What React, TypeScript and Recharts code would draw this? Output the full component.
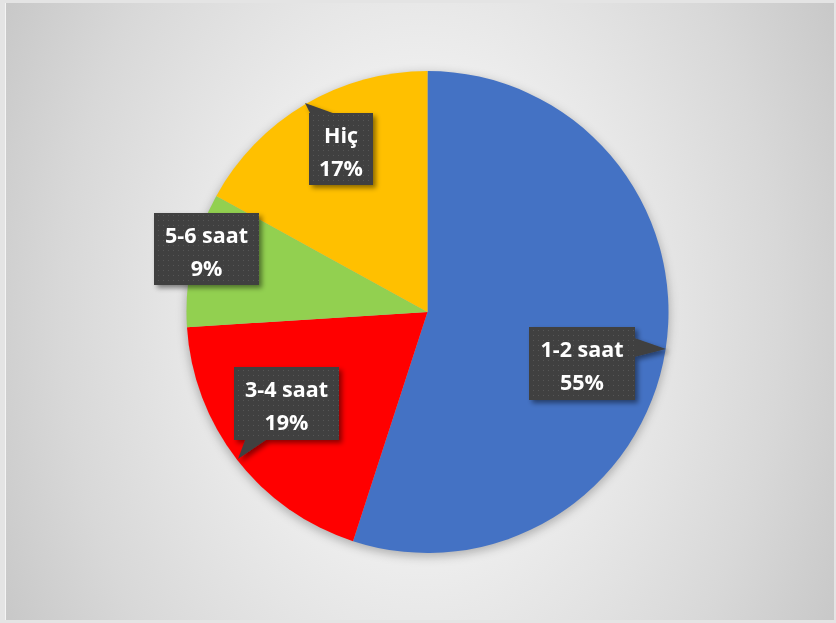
import { PieChart, Pie, Cell } from "recharts";

const categories = ["1-2 saat", "3-4 saat", "5-6 saat", "Hiç"];
const shares = [55, 19, 9, 17];
const percentLabels = ["55%", "19%", "9%", "17%"];
const sliceColors = ["#4472C4", "#FF0000", "#92D050", "#FFC000"];

const data = categories.map((name, i) => ({ name, value: shares[i], pct: percentLabels[i] }));

// callout boxes, relative to the pie centre: box left/top/width/height + pointer polygon
const callouts = [
  { x: 101.5, y: 15, w: 106, h: 73, ptr: [[207, 26], [238.5, 37], [207, 45]] },
  { x: -193.5, y: 55, w: 105, h: 73, ptr: [[-182, 127], [-189.5, 147], [-160, 127]] },
  { x: -273.5, y: -99, w: 105, h: 72, ptr: null },
  { x: -118.5, y: -199, w: 64, h: 72, ptr: [[-117, -198], [-122.5, -209], [-92, -198]] },
];

const W = 829;
const H = 617;
const CX = 421.5;
const CY = 309;
const R = 241;

function Callout(props: any) {
  const { cx, cy, index } = props;
  const c = callouts[index];
  const left = cx + c.x;
  const top = cy + c.y;
  const mid = left + c.w / 2;
  const textProps = {
    textAnchor: "middle" as const,
    fill: "#ffffff",
    fontSize: 21.5,
    fontWeight: 700,
    fontFamily: "'Open Sans', sans-serif",
  };
  return (
    <g filter="url(#boxShadow)">
      {c.ptr && (
        <polygon
          points={c.ptr.map(([px, py]) => `${cx + px},${cy + py}`).join(" ")}
          fill="#404040"
        />
      )}
      <rect x={left} y={top} width={c.w} height={c.h} fill="url(#dots)" />
      <text x={mid} y={top + 30} {...textProps}>
        {categories[index]}
      </text>
      <text x={mid} y={top + 63} {...textProps}>
        {percentLabels[index]}
      </text>
    </g>
  );
}

export default function App() {
  return (
    <div style={{ position: "absolute", left: 0, top: 0, width: 836, height: 623, background: "#e4e4e4" }}>
      <div
        style={{
          position: "absolute",
          left: 5,
          top: 3,
          width: W,
          height: H,
          borderLeft: "1px solid #f4f4f4",
          boxSizing: "border-box",
          background:
            "radial-gradient(ellipse 62% 115% at 50% 50%, #f2f2f2 0%, #ededed 35%, #d8d8d8 70%, #c2c2c2 100%)",
        }}
      >
        <PieChart width={W} height={H} margin={{ top: 0, right: 0, bottom: 0, left: 0 }}>
          <defs>
            <pattern id="dots" width="5" height="5" patternUnits="userSpaceOnUse">
              <rect width="5" height="5" fill="#414141" />
              <rect x="2" y="2" width="1" height="1" fill="#575757" />
            </pattern>
            <filter id="boxShadow" x="-20%" y="-20%" width="150%" height="150%">
              <feDropShadow dx="3" dy="3" stdDeviation="2.5" floodColor="#000" floodOpacity="0.45" />
            </filter>
            <filter id="pieShadow" x="-20%" y="-20%" width="140%" height="140%">
              <feGaussianBlur stdDeviation="5" />
            </filter>
          </defs>
          <Pie
            data={[{ name: "shadow", value: 1 }]}
            dataKey="value"
            cx={CX}
            cy={CY + 3}
            outerRadius={R + 1}
            startAngle={90}
            endAngle={-270}
            stroke="none"
            isAnimationActive={false}
            legendType="none"
          >
            <Cell fill="#000000" fillOpacity={0.25} filter="url(#pieShadow)" />
          </Pie>
          <Pie
            data={data}
            dataKey="value"
            nameKey="name"
            cx={CX}
            cy={CY}
            outerRadius={R}
            startAngle={90}
            endAngle={-270}
            stroke="none"
            labelLine={false}
            label={Callout}
            isAnimationActive={false}
          >
            {data.map((d, i) => (
              <Cell key={d.name} fill={sliceColors[i]} />
            ))}
          </Pie>
        </PieChart>
      </div>
    </div>
  );
}
